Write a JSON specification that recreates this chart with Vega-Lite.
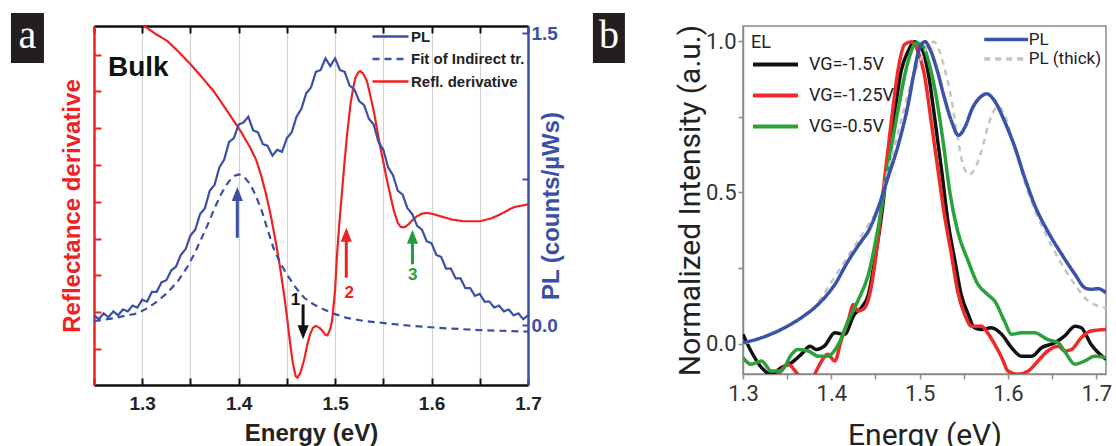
{
"$schema": "https://vega.github.io/schema/vega-lite/v6.json",
"background": "white",
"padding": {"left": 10, "top": 12, "right": 0, "bottom": 0},
"spacing": 28,
"resolve": {
 "scale": {"color": "independent", "stroke": "independent", "strokeDash": "independent", "fill": "independent", "shape": "independent"},
 "legend": {"color": "independent", "stroke": "independent", "strokeDash": "independent", "fill": "independent", "shape": "independent"}
},
"config": {"font": "Liberation Sans", "legend": {"symbolLimit": 0}},
"datasets": {
"lines": [
{"E":1.290,"p":1.616,"s":"Refl. derivative"},{"E":1.300,"p":1.544,"s":"Refl. derivative"},{"E":1.313,"p":1.498,"s":"Refl. derivative"},{"E":1.326,"p":1.459,"s":"Refl. derivative"},{"E":1.338,"p":1.402,"s":"Refl. derivative"},{"E":1.350,"p":1.340,"s":"Refl. derivative"},{"E":1.362,"p":1.272,"s":"Refl. derivative"},{"E":1.374,"p":1.202,"s":"Refl. derivative"},{"E":1.388,"p":1.100,"s":"Refl. derivative"},{"E":1.402,"p":0.996,"s":"Refl. derivative"},{"E":1.412,"p":0.911,"s":"Refl. derivative"},{"E":1.418,"p":0.850,"s":"Refl. derivative"},{"E":1.423,"p":0.774,"s":"Refl. derivative"},{"E":1.428,"p":0.680,"s":"Refl. derivative"},{"E":1.433,"p":0.570,"s":"Refl. derivative"},{"E":1.438,"p":0.440,"s":"Refl. derivative"},{"E":1.443,"p":0.294,"s":"Refl. derivative"},{"E":1.447,"p":0.160,"s":"Refl. derivative"},{"E":1.450,"p":0.047,"s":"Refl. derivative"},{"E":1.453,"p":-0.080,"s":"Refl. derivative"},{"E":1.456,"p":-0.190,"s":"Refl. derivative"},{"E":1.459,"p":-0.262,"s":"Refl. derivative"},{"E":1.461,"p":-0.270,"s":"Refl. derivative"},{"E":1.464,"p":-0.245,"s":"Refl. derivative"},{"E":1.468,"p":-0.176,"s":"Refl. derivative"},{"E":1.471,"p":-0.105,"s":"Refl. derivative"},{"E":1.474,"p":-0.048,"s":"Refl. derivative"},{"E":1.477,"p":-0.015,"s":"Refl. derivative"},{"E":1.480,"p":-0.004,"s":"Refl. derivative"},{"E":1.484,"p":-0.015,"s":"Refl. derivative"},{"E":1.487,"p":-0.031,"s":"Refl. derivative"},{"E":1.490,"p":-0.050,"s":"Refl. derivative"},{"E":1.492,"p":-0.053,"s":"Refl. derivative"},{"E":1.495,"p":-0.020,"s":"Refl. derivative"},{"E":1.497,"p":0.028,"s":"Refl. derivative"},{"E":1.500,"p":0.180,"s":"Refl. derivative"},{"E":1.502,"p":0.364,"s":"Refl. derivative"},{"E":1.505,"p":0.560,"s":"Refl. derivative"},{"E":1.509,"p":0.792,"s":"Refl. derivative"},{"E":1.512,"p":0.960,"s":"Refl. derivative"},{"E":1.516,"p":1.136,"s":"Refl. derivative"},{"E":1.519,"p":1.225,"s":"Refl. derivative"},{"E":1.521,"p":1.270,"s":"Refl. derivative"},{"E":1.524,"p":1.298,"s":"Refl. derivative"},{"E":1.526,"p":1.304,"s":"Refl. derivative"},{"E":1.529,"p":1.292,"s":"Refl. derivative"},{"E":1.533,"p":1.253,"s":"Refl. derivative"},{"E":1.536,"p":1.190,"s":"Refl. derivative"},{"E":1.540,"p":1.100,"s":"Refl. derivative"},{"E":1.547,"p":0.911,"s":"Refl. derivative"},{"E":1.554,"p":0.739,"s":"Refl. derivative"},{"E":1.558,"p":0.650,"s":"Refl. derivative"},{"E":1.561,"p":0.585,"s":"Refl. derivative"},{"E":1.565,"p":0.525,"s":"Refl. derivative"},{"E":1.568,"p":0.504,"s":"Refl. derivative"},{"E":1.572,"p":0.502,"s":"Refl. derivative"},{"E":1.576,"p":0.517,"s":"Refl. derivative"},{"E":1.580,"p":0.538,"s":"Refl. derivative"},{"E":1.585,"p":0.559,"s":"Refl. derivative"},{"E":1.590,"p":0.572,"s":"Refl. derivative"},{"E":1.595,"p":0.576,"s":"Refl. derivative"},{"E":1.602,"p":0.570,"s":"Refl. derivative"},{"E":1.609,"p":0.559,"s":"Refl. derivative"},{"E":1.621,"p":0.542,"s":"Refl. derivative"},{"E":1.633,"p":0.533,"s":"Refl. derivative"},{"E":1.650,"p":0.533,"s":"Refl. derivative"},{"E":1.662,"p":0.548,"s":"Refl. derivative"},{"E":1.671,"p":0.568,"s":"Refl. derivative"},{"E":1.685,"p":0.605,"s":"Refl. derivative"},{"E":1.700,"p":0.620,"s":"Refl. derivative"},
{"E":1.250,"p":0.05,"s":"PL"},{"E":1.255,"p":0.03,"s":"PL"},{"E":1.260,"p":0.06,"s":"PL"},{"E":1.265,"p":0.04,"s":"PL"},{"E":1.270,"p":0.07,"s":"PL"},{"E":1.275,"p":0.05,"s":"PL"},{"E":1.280,"p":0.08,"s":"PL"},{"E":1.285,"p":0.07,"s":"PL"},{"E":1.290,"p":0.10,"s":"PL"},{"E":1.295,"p":0.09,"s":"PL"},{"E":1.300,"p":0.13,"s":"PL"},{"E":1.305,"p":0.12,"s":"PL"},{"E":1.310,"p":0.17,"s":"PL"},{"E":1.315,"p":0.17,"s":"PL"},{"E":1.320,"p":0.22,"s":"PL"},{"E":1.325,"p":0.23,"s":"PL"},{"E":1.330,"p":0.28,"s":"PL"},{"E":1.335,"p":0.30,"s":"PL"},{"E":1.340,"p":0.36,"s":"PL"},{"E":1.345,"p":0.39,"s":"PL"},{"E":1.350,"p":0.46,"s":"PL"},{"E":1.355,"p":0.49,"s":"PL"},{"E":1.360,"p":0.57,"s":"PL"},{"E":1.365,"p":0.60,"s":"PL"},{"E":1.370,"p":0.69,"s":"PL"},{"E":1.375,"p":0.72,"s":"PL"},{"E":1.380,"p":0.81,"s":"PL"},{"E":1.385,"p":0.85,"s":"PL"},{"E":1.390,"p":0.94,"s":"PL"},{"E":1.395,"p":0.96,"s":"PL"},{"E":1.400,"p":1.03,"s":"PL"},{"E":1.405,"p":1.04,"s":"PL"},{"E":1.410,"p":1.07,"s":"PL"},{"E":1.415,"p":1.00,"s":"PL"},{"E":1.420,"p":0.99,"s":"PL"},{"E":1.425,"p":0.93,"s":"PL"},{"E":1.430,"p":0.92,"s":"PL"},{"E":1.435,"p":0.87,"s":"PL"},{"E":1.440,"p":0.90,"s":"PL"},{"E":1.445,"p":0.89,"s":"PL"},{"E":1.450,"p":0.96,"s":"PL"},{"E":1.455,"p":0.99,"s":"PL"},{"E":1.460,"p":1.07,"s":"PL"},{"E":1.465,"p":1.11,"s":"PL"},{"E":1.470,"p":1.19,"s":"PL"},{"E":1.475,"p":1.22,"s":"PL"},{"E":1.480,"p":1.30,"s":"PL"},{"E":1.485,"p":1.31,"s":"PL"},{"E":1.490,"p":1.37,"s":"PL"},{"E":1.495,"p":1.33,"s":"PL"},{"E":1.500,"p":1.37,"s":"PL"},{"E":1.505,"p":1.31,"s":"PL"},{"E":1.510,"p":1.30,"s":"PL"},{"E":1.515,"p":1.23,"s":"PL"},{"E":1.520,"p":1.21,"s":"PL"},{"E":1.525,"p":1.15,"s":"PL"},{"E":1.530,"p":1.13,"s":"PL"},{"E":1.535,"p":1.06,"s":"PL"},{"E":1.540,"p":1.03,"s":"PL"},{"E":1.545,"p":0.94,"s":"PL"},{"E":1.550,"p":0.90,"s":"PL"},{"E":1.555,"p":0.81,"s":"PL"},{"E":1.560,"p":0.77,"s":"PL"},{"E":1.565,"p":0.69,"s":"PL"},{"E":1.570,"p":0.67,"s":"PL"},{"E":1.575,"p":0.60,"s":"PL"},{"E":1.580,"p":0.57,"s":"PL"},{"E":1.585,"p":0.51,"s":"PL"},{"E":1.590,"p":0.49,"s":"PL"},{"E":1.595,"p":0.43,"s":"PL"},{"E":1.600,"p":0.42,"s":"PL"},{"E":1.605,"p":0.36,"s":"PL"},{"E":1.610,"p":0.35,"s":"PL"},{"E":1.615,"p":0.29,"s":"PL"},{"E":1.620,"p":0.29,"s":"PL"},{"E":1.625,"p":0.24,"s":"PL"},{"E":1.630,"p":0.24,"s":"PL"},{"E":1.635,"p":0.19,"s":"PL"},{"E":1.640,"p":0.19,"s":"PL"},{"E":1.645,"p":0.15,"s":"PL"},{"E":1.650,"p":0.16,"s":"PL"},{"E":1.655,"p":0.12,"s":"PL"},{"E":1.660,"p":0.12,"s":"PL"},{"E":1.665,"p":0.09,"s":"PL"},{"E":1.670,"p":0.10,"s":"PL"},{"E":1.675,"p":0.07,"s":"PL"},{"E":1.680,"p":0.08,"s":"PL"},{"E":1.685,"p":0.05,"s":"PL"},{"E":1.690,"p":0.06,"s":"PL"},{"E":1.695,"p":0.03,"s":"PL"},{"E":1.700,"p":0.05,"s":"PL"},
{"E":1.250,"p":0.02,"s":"Fit of Indirect tr."},{"E":1.270,"p":0.035,"s":"Fit of Indirect tr."},{"E":1.295,"p":0.06,"s":"Fit of Indirect tr."},{"E":1.306,"p":0.088,"s":"Fit of Indirect tr."},{"E":1.316,"p":0.123,"s":"Fit of Indirect tr."},{"E":1.327,"p":0.170,"s":"Fit of Indirect tr."},{"E":1.337,"p":0.226,"s":"Fit of Indirect tr."},{"E":1.346,"p":0.292,"s":"Fit of Indirect tr."},{"E":1.354,"p":0.365,"s":"Fit of Indirect tr."},{"E":1.361,"p":0.440,"s":"Fit of Indirect tr."},{"E":1.368,"p":0.517,"s":"Fit of Indirect tr."},{"E":1.375,"p":0.600,"s":"Fit of Indirect tr."},{"E":1.381,"p":0.665,"s":"Fit of Indirect tr."},{"E":1.387,"p":0.718,"s":"Fit of Indirect tr."},{"E":1.392,"p":0.750,"s":"Fit of Indirect tr."},{"E":1.396,"p":0.767,"s":"Fit of Indirect tr."},{"E":1.400,"p":0.774,"s":"Fit of Indirect tr."},{"E":1.405,"p":0.765,"s":"Fit of Indirect tr."},{"E":1.412,"p":0.723,"s":"Fit of Indirect tr."},{"E":1.418,"p":0.662,"s":"Fit of Indirect tr."},{"E":1.424,"p":0.586,"s":"Fit of Indirect tr."},{"E":1.430,"p":0.490,"s":"Fit of Indirect tr."},{"E":1.436,"p":0.397,"s":"Fit of Indirect tr."},{"E":1.443,"p":0.320,"s":"Fit of Indirect tr."},{"E":1.450,"p":0.260,"s":"Fit of Indirect tr."},{"E":1.459,"p":0.193,"s":"Fit of Indirect tr."},{"E":1.468,"p":0.140,"s":"Fit of Indirect tr."},{"E":1.478,"p":0.105,"s":"Fit of Indirect tr."},{"E":1.488,"p":0.081,"s":"Fit of Indirect tr."},{"E":1.500,"p":0.056,"s":"Fit of Indirect tr."},{"E":1.512,"p":0.037,"s":"Fit of Indirect tr."},{"E":1.530,"p":0.021,"s":"Fit of Indirect tr."},{"E":1.547,"p":0.012,"s":"Fit of Indirect tr."},{"E":1.581,"p":-0.005,"s":"Fit of Indirect tr."},{"E":1.616,"p":-0.017,"s":"Fit of Indirect tr."},{"E":1.650,"p":-0.026,"s":"Fit of Indirect tr."},{"E":1.700,"p":-0.034,"s":"Fit of Indirect tr."}
],
"arrows": [
{"k":"b","E":1.3986,"tail":0.448,"neck":0.66,"tip":0.709,"dir":"up","lbl":"","lx":1.4,"ly":0},
{"k":"1","E":1.4668,"tail":0.106,"neck":-0.025,"tip":-0.073,"dir":"down","lbl":"1","lx":1.4589,"ly":0.128},
{"k":"2","E":1.5116,"tail":0.243,"neck":0.45,"tip":0.50,"dir":"up","lbl":"2","lx":1.5147,"ly":0.167},
{"k":"3","E":1.5802,"tail":0.312,"neck":0.44,"tip":0.49,"dir":"up","lbl":"3","lx":1.5804,"ly":0.257}
],
"el": [
{"E":1.300,"I":0.031,"s":"VG=-1.5V"},{"E":1.309,"I":-0.024,"s":"VG=-1.5V"},{"E":1.321,"I":-0.079,"s":"VG=-1.5V"},{"E":1.332,"I":-0.101,"s":"VG=-1.5V"},{"E":1.343,"I":-0.079,"s":"VG=-1.5V"},{"E":1.355,"I":-0.063,"s":"VG=-1.5V"},{"E":1.366,"I":-0.035,"s":"VG=-1.5V"},{"E":1.376,"I":-0.008,"s":"VG=-1.5V"},{"E":1.383,"I":-0.019,"s":"VG=-1.5V"},{"E":1.392,"I":-0.008,"s":"VG=-1.5V"},{"E":1.404,"I":0.036,"s":"VG=-1.5V"},{"E":1.415,"I":0.031,"s":"VG=-1.5V"},{"E":1.426,"I":0.097,"s":"VG=-1.5V"},{"E":1.434,"I":0.119,"s":"VG=-1.5V"},{"E":1.442,"I":0.163,"s":"VG=-1.5V"},{"E":1.449,"I":0.273,"s":"VG=-1.5V"},{"E":1.457,"I":0.427,"s":"VG=-1.5V"},{"E":1.464,"I":0.604,"s":"VG=-1.5V"},{"E":1.472,"I":0.769,"s":"VG=-1.5V"},{"E":1.479,"I":0.901,"s":"VG=-1.5V"},{"E":1.487,"I":0.967,"s":"VG=-1.5V"},{"E":1.494,"I":0.998,"s":"VG=-1.5V"},{"E":1.502,"I":0.978,"s":"VG=-1.5V"},{"E":1.510,"I":0.890,"s":"VG=-1.5V"},{"E":1.517,"I":0.747,"s":"VG=-1.5V"},{"E":1.525,"I":0.570,"s":"VG=-1.5V"},{"E":1.532,"I":0.405,"s":"VG=-1.5V"},{"E":1.540,"I":0.273,"s":"VG=-1.5V"},{"E":1.547,"I":0.163,"s":"VG=-1.5V"},{"E":1.555,"I":0.097,"s":"VG=-1.5V"},{"E":1.562,"I":0.053,"s":"VG=-1.5V"},{"E":1.570,"I":0.047,"s":"VG=-1.5V"},{"E":1.581,"I":0.053,"s":"VG=-1.5V"},{"E":1.593,"I":0.031,"s":"VG=-1.5V"},{"E":1.604,"I":-0.013,"s":"VG=-1.5V"},{"E":1.615,"I":-0.041,"s":"VG=-1.5V"},{"E":1.627,"I":-0.041,"s":"VG=-1.5V"},{"E":1.638,"I":-0.013,"s":"VG=-1.5V"},{"E":1.653,"I":0.003,"s":"VG=-1.5V"},{"E":1.664,"I":0.025,"s":"VG=-1.5V"},{"E":1.676,"I":0.058,"s":"VG=-1.5V"},{"E":1.683,"I":0.053,"s":"VG=-1.5V"},{"E":1.694,"I":-0.002,"s":"VG=-1.5V"},{"E":1.711,"I":-0.052,"s":"VG=-1.5V"},
{"E":1.300,"I":-0.107,"s":"VG=-1.25V"},{"E":1.332,"I":-0.123,"s":"VG=-1.25V"},{"E":1.351,"I":-0.068,"s":"VG=-1.25V"},{"E":1.364,"I":-0.107,"s":"VG=-1.25V"},{"E":1.377,"I":-0.123,"s":"VG=-1.25V"},{"E":1.383,"I":-0.090,"s":"VG=-1.25V"},{"E":1.389,"I":-0.057,"s":"VG=-1.25V"},{"E":1.396,"I":-0.035,"s":"VG=-1.25V"},{"E":1.404,"I":-0.057,"s":"VG=-1.25V"},{"E":1.411,"I":0.009,"s":"VG=-1.25V"},{"E":1.419,"I":0.075,"s":"VG=-1.25V"},{"E":1.425,"I":0.130,"s":"VG=-1.25V"},{"E":1.430,"I":0.108,"s":"VG=-1.25V"},{"E":1.438,"I":0.119,"s":"VG=-1.25V"},{"E":1.445,"I":0.185,"s":"VG=-1.25V"},{"E":1.453,"I":0.350,"s":"VG=-1.25V"},{"E":1.460,"I":0.537,"s":"VG=-1.25V"},{"E":1.468,"I":0.736,"s":"VG=-1.25V"},{"E":1.476,"I":0.912,"s":"VG=-1.25V"},{"E":1.483,"I":0.989,"s":"VG=-1.25V"},{"E":1.491,"I":0.998,"s":"VG=-1.25V"},{"E":1.498,"I":0.967,"s":"VG=-1.25V"},{"E":1.506,"I":0.879,"s":"VG=-1.25V"},{"E":1.513,"I":0.736,"s":"VG=-1.25V"},{"E":1.521,"I":0.570,"s":"VG=-1.25V"},{"E":1.528,"I":0.427,"s":"VG=-1.25V"},{"E":1.536,"I":0.295,"s":"VG=-1.25V"},{"E":1.543,"I":0.174,"s":"VG=-1.25V"},{"E":1.551,"I":0.097,"s":"VG=-1.25V"},{"E":1.559,"I":0.058,"s":"VG=-1.25V"},{"E":1.570,"I":0.058,"s":"VG=-1.25V"},{"E":1.577,"I":0.036,"s":"VG=-1.25V"},{"E":1.585,"I":-0.002,"s":"VG=-1.25V"},{"E":1.593,"I":-0.046,"s":"VG=-1.25V"},{"E":1.600,"I":-0.090,"s":"VG=-1.25V"},{"E":1.611,"I":-0.101,"s":"VG=-1.25V"},{"E":1.623,"I":-0.090,"s":"VG=-1.25V"},{"E":1.634,"I":-0.057,"s":"VG=-1.25V"},{"E":1.645,"I":-0.024,"s":"VG=-1.25V"},{"E":1.657,"I":-0.008,"s":"VG=-1.25V"},{"E":1.664,"I":-0.024,"s":"VG=-1.25V"},{"E":1.672,"I":-0.019,"s":"VG=-1.25V"},{"E":1.683,"I":0.020,"s":"VG=-1.25V"},{"E":1.694,"I":0.042,"s":"VG=-1.25V"},{"E":1.711,"I":0.047,"s":"VG=-1.25V"},
{"E":1.300,"I":-0.046,"s":"VG=-0.5V"},{"E":1.309,"I":-0.068,"s":"VG=-0.5V"},{"E":1.321,"I":-0.057,"s":"VG=-0.5V"},{"E":1.332,"I":-0.090,"s":"VG=-0.5V"},{"E":1.343,"I":-0.090,"s":"VG=-0.5V"},{"E":1.355,"I":-0.035,"s":"VG=-0.5V"},{"E":1.362,"I":-0.019,"s":"VG=-0.5V"},{"E":1.374,"I":-0.024,"s":"VG=-0.5V"},{"E":1.385,"I":-0.041,"s":"VG=-0.5V"},{"E":1.396,"I":-0.041,"s":"VG=-0.5V"},{"E":1.408,"I":-0.002,"s":"VG=-0.5V"},{"E":1.419,"I":0.075,"s":"VG=-0.5V"},{"E":1.430,"I":0.141,"s":"VG=-0.5V"},{"E":1.442,"I":0.229,"s":"VG=-0.5V"},{"E":1.453,"I":0.383,"s":"VG=-0.5V"},{"E":1.464,"I":0.581,"s":"VG=-0.5V"},{"E":1.476,"I":0.780,"s":"VG=-0.5V"},{"E":1.487,"I":0.934,"s":"VG=-0.5V"},{"E":1.496,"I":0.994,"s":"VG=-0.5V"},{"E":1.504,"I":0.983,"s":"VG=-0.5V"},{"E":1.511,"I":0.923,"s":"VG=-0.5V"},{"E":1.519,"I":0.813,"s":"VG=-0.5V"},{"E":1.527,"I":0.659,"s":"VG=-0.5V"},{"E":1.534,"I":0.504,"s":"VG=-0.5V"},{"E":1.543,"I":0.372,"s":"VG=-0.5V"},{"E":1.555,"I":0.273,"s":"VG=-0.5V"},{"E":1.566,"I":0.196,"s":"VG=-0.5V"},{"E":1.577,"I":0.163,"s":"VG=-0.5V"},{"E":1.585,"I":0.141,"s":"VG=-0.5V"},{"E":1.596,"I":0.075,"s":"VG=-0.5V"},{"E":1.604,"I":0.031,"s":"VG=-0.5V"},{"E":1.615,"I":0.036,"s":"VG=-0.5V"},{"E":1.630,"I":0.036,"s":"VG=-0.5V"},{"E":1.645,"I":0.014,"s":"VG=-0.5V"},{"E":1.657,"I":0.003,"s":"VG=-0.5V"},{"E":1.664,"I":-0.024,"s":"VG=-0.5V"},{"E":1.676,"I":-0.068,"s":"VG=-0.5V"},{"E":1.687,"I":-0.057,"s":"VG=-0.5V"},{"E":1.698,"I":-0.041,"s":"VG=-0.5V"},{"E":1.711,"I":-0.046,"s":"VG=-0.5V"}
],
"pl": [
{"E":1.300,"I":0.003,"s":"PL"},{"E":1.321,"I":0.020,"s":"PL"},{"E":1.343,"I":0.047,"s":"PL"},{"E":1.366,"I":0.086,"s":"PL"},{"E":1.385,"I":0.130,"s":"PL"},{"E":1.404,"I":0.196,"s":"PL"},{"E":1.419,"I":0.273,"s":"PL"},{"E":1.434,"I":0.339,"s":"PL"},{"E":1.442,"I":0.372,"s":"PL"},{"E":1.453,"I":0.449,"s":"PL"},{"E":1.464,"I":0.548,"s":"PL"},{"E":1.476,"I":0.659,"s":"PL"},{"E":1.487,"I":0.791,"s":"PL"},{"E":1.494,"I":0.901,"s":"PL"},{"E":1.500,"I":0.978,"s":"PL"},{"E":1.506,"I":0.998,"s":"PL"},{"E":1.511,"I":0.978,"s":"PL"},{"E":1.519,"I":0.912,"s":"PL"},{"E":1.528,"I":0.813,"s":"PL"},{"E":1.536,"I":0.736,"s":"PL"},{"E":1.544,"I":0.689,"s":"PL"},{"E":1.551,"I":0.714,"s":"PL"},{"E":1.560,"I":0.780,"s":"PL"},{"E":1.570,"I":0.818,"s":"PL"},{"E":1.576,"I":0.826,"s":"PL"},{"E":1.585,"I":0.802,"s":"PL"},{"E":1.596,"I":0.736,"s":"PL"},{"E":1.608,"I":0.648,"s":"PL"},{"E":1.619,"I":0.548,"s":"PL"},{"E":1.630,"I":0.460,"s":"PL"},{"E":1.645,"I":0.372,"s":"PL"},{"E":1.661,"I":0.295,"s":"PL"},{"E":1.676,"I":0.229,"s":"PL"},{"E":1.687,"I":0.185,"s":"PL"},{"E":1.694,"I":0.180,"s":"PL"},{"E":1.702,"I":0.182,"s":"PL"},{"E":1.711,"I":0.168,"s":"PL"},
{"E":1.300,"I":0.000,"s":"PL (thick)"},{"E":1.321,"I":0.018,"s":"PL (thick)"},{"E":1.343,"I":0.045,"s":"PL (thick)"},{"E":1.366,"I":0.088,"s":"PL (thick)"},{"E":1.385,"I":0.135,"s":"PL (thick)"},{"E":1.396,"I":0.185,"s":"PL (thick)"},{"E":1.419,"I":0.290,"s":"PL (thick)"},{"E":1.442,"I":0.394,"s":"PL (thick)"},{"E":1.453,"I":0.449,"s":"PL (thick)"},{"E":1.464,"I":0.570,"s":"PL (thick)"},{"E":1.479,"I":0.736,"s":"PL (thick)"},{"E":1.491,"I":0.868,"s":"PL (thick)"},{"E":1.502,"I":0.945,"s":"PL (thick)"},{"E":1.516,"I":0.998,"s":"PL (thick)"},{"E":1.527,"I":0.923,"s":"PL (thick)"},{"E":1.537,"I":0.791,"s":"PL (thick)"},{"E":1.543,"I":0.681,"s":"PL (thick)"},{"E":1.549,"I":0.593,"s":"PL (thick)"},{"E":1.556,"I":0.559,"s":"PL (thick)"},{"E":1.563,"I":0.581,"s":"PL (thick)"},{"E":1.570,"I":0.637,"s":"PL (thick)"},{"E":1.578,"I":0.725,"s":"PL (thick)"},{"E":1.589,"I":0.785,"s":"PL (thick)"},{"E":1.597,"I":0.750,"s":"PL (thick)"},{"E":1.608,"I":0.640,"s":"PL (thick)"},{"E":1.619,"I":0.535,"s":"PL (thick)"},{"E":1.630,"I":0.445,"s":"PL (thick)"},{"E":1.645,"I":0.350,"s":"PL (thick)"},{"E":1.661,"I":0.262,"s":"PL (thick)"},{"E":1.676,"I":0.195,"s":"PL (thick)"},{"E":1.691,"I":0.141,"s":"PL (thick)"},{"E":1.711,"I":0.119,"s":"PL (thick)"}
]
},
"hconcat": [
{
"width": 434, "height": 359,
"view": {"stroke": null},
"resolve": {"axis": {"x": "independent", "y": "independent"}},
"layer": [
{
"data": {"name": "lines"},
"mark": {"type": "line", "strokeWidth": 2.2, "clip": true},
"encoding": {
"x": {"field": "E", "type": "quantitative", "scale": {"domain": [1.25, 1.7], "nice": false, "zero": false},
 "axis": {"orient": "bottom", "values": [1.25,1.3,1.35,1.4,1.45,1.5,1.55,1.6,1.65,1.7], "labelExpr": "abs(datum.value*10-round(datum.value*10))<0.01 ? format(datum.value,'.1f') : ''", "labelFlush": false, "labelOverlap": false, "labelFont": "Liberation Sans", "labelFontWeight": "bold", "labelFontSize": 19, "labelColor": "#222", "labelPadding": 16, "tickSize": -7, "tickWidth": 2, "tickColor": "#111", "domainColor": "#111", "domainWidth": 2.5, "grid": false, "title": "Energy (eV)", "titleFont": "Liberation Sans", "titleFontWeight": "bold", "titleFontSize": 24, "titleColor": "#222", "titlePadding": 8}},
"y": {"field": "p", "type": "quantitative", "scale": {"domain": [-0.308, 1.536], "nice": false, "zero": false},
 "axis": {"orient": "left", "values": [-0.123, 0.066, 0.255, 0.444, 0.633, 0.822, 1.011, 1.2, 1.389], "labels": false, "tickSize": -7, "tickWidth": 2, "tickColor": "#ee2222", "domainColor": "#ee2222", "domainWidth": 2.5, "grid": false, "title": "Reflectance derivative", "titleColor": "#ee2222", "titleFont": "Liberation Sans", "titleFontWeight": "bold", "titleFontSize": 24, "titlePadding": 9}},
"color": {"field": "s", "type": "nominal", "scale": {"domain": ["PL", "Fit of Indirect tr.", "Refl. derivative"], "range": ["#3a4fa6", "#3a4fa6", "#ee2222"]},
 "legend": {"orient": "top-right", "offset": 3, "title": null, "symbolType": "M-3,0H3", "symbolSize": 144, "symbolOffset": 12, "symbolStrokeWidth": 2.5, "labelFont": "Liberation Sans", "labelFontWeight": "bold", "labelFontSize": 15, "labelColor": "#222", "labelOffset": 13, "rowPadding": 6.5, "padding": 0}},
"strokeDash": {"field": "s", "type": "nominal", "scale": {"domain": ["PL", "Fit of Indirect tr.", "Refl. derivative"], "range": [[1,0],[7,5],[1,0]]},
 "legend": {"orient": "top-right", "offset": 3, "title": null, "symbolType": "M-3,0H3", "symbolSize": 144, "symbolOffset": 12, "symbolStrokeWidth": 2.5, "labelFont": "Liberation Sans", "labelFontWeight": "bold", "labelFontSize": 15, "labelColor": "#222", "labelOffset": 13, "rowPadding": 6.5, "padding": 0}}
}
},
{
"data": {"name": "arrows"},
"mark": {"type": "rule", "strokeWidth": 3},
"encoding": {
"x": {"field": "E", "type": "quantitative", "scale": {"domain": [1.25, 1.7], "nice": false, "zero": false},
 "axis": {"orient": "top", "values": [1.25,1.3,1.35,1.4,1.45,1.5,1.55,1.6,1.65,1.7], "labels": false, "tickSize": -7, "tickWidth": 2, "tickColor": "#111", "domainColor": "#111", "domainWidth": 2.5, "grid": true, "gridColor": "#d2d2d2", "gridWidth": 1.2, "title": null}},
"y": {"field": "tail", "type": "quantitative", "scale": {"domain": [-0.308, 1.536], "nice": false, "zero": false},
 "axis": {"orient": "right", "values": [0, 0.75, 1.5], "labelExpr": "datum.value == 0.75 ? '' : format(datum.value, '.1f')", "labelFlush": false, "labelOverlap": false, "labelFont": "Liberation Sans", "labelFontWeight": "bold", "labelFontSize": 19, "labelColor": "#3a4fa6", "labelPadding": 9, "tickSize": -6, "tickWidth": 2, "tickColor": "#3a4fa6", "domainColor": "#3a4fa6", "domainWidth": 2.5, "grid": false, "title": "PL (counts/µWs)", "titleColor": "#3a4fa6", "titleFont": "Liberation Sans", "titleFontWeight": "bold", "titleFontSize": 24, "titleAngle": 270, "titlePadding": 6}},
"y2": {"field": "neck"},
"stroke": {"field": "k", "type": "nominal", "scale": {"domain": ["b","1","2","3"], "range": ["#3a4fa6", "#111111", "#ee2222", "#1f9e3f"]}, "legend": null}
}
},
{
"data": {"name": "arrows"},
"mark": {"type": "point", "filled": true, "opacity": 1, "size": 196, "strokeWidth": 0},
"encoding": {
"x": {"field": "E", "type": "quantitative", "scale": {"domain": [1.25, 1.7], "nice": false, "zero": false}, "axis": null},
"y": {"field": "tip", "type": "quantitative", "scale": {"domain": [-0.308, 1.536], "nice": false, "zero": false}, "axis": null},
"shape": {"field": "dir", "type": "nominal", "scale": {"domain": ["up", "down"], "range": ["M0,0L-0.8,2L0.8,2Z", "M0,0L-0.8,-2L0.8,-2Z"]}, "legend": null},
"fill": {"field": "k", "type": "nominal", "scale": {"domain": ["b","1","2","3"], "range": ["#3a4fa6", "#111111", "#ee2222", "#1f9e3f"]}, "legend": null}
}
},
{
"data": {"name": "arrows"},
"transform": [{"filter": "datum.lbl != ''"}],
"mark": {"type": "text", "font": "Liberation Sans", "fontWeight": "bold", "fontSize": 17},
"encoding": {
"x": {"field": "lx", "type": "quantitative", "scale": {"domain": [1.25, 1.7], "nice": false, "zero": false}, "axis": null},
"y": {"field": "ly", "type": "quantitative", "scale": {"domain": [-0.308, 1.536], "nice": false, "zero": false}, "axis": null},
"text": {"field": "lbl"},
"fill": {"field": "k", "type": "nominal", "scale": {"domain": ["b","1","2","3"], "range": ["#3a4fa6", "#111111", "#ee2222", "#1f9e3f"]}, "legend": null}
}
},
{
"data": {"values": [{"t": "Bulk"}]},
"mark": {"type": "text", "font": "Liberation Sans", "fontWeight": "bold", "fontSize": 28, "align": "left", "baseline": "alphabetic", "color": "#111"},
"encoding": {
"x": {"datum": 1.2645, "type": "quantitative", "scale": {"domain": [1.25, 1.7], "nice": false, "zero": false}, "axis": null},
"y": {"datum": 1.279, "type": "quantitative", "scale": {"domain": [-0.308, 1.536], "nice": false, "zero": false}, "axis": null},
"text": {"field": "t"}
}
},
{
"data": {"values": [{"t": "a"}]},
"mark": {"type": "point", "shape": "M-0.66,-1H0.66V1H-0.66Z", "size": 2500, "filled": true, "opacity": 1, "color": "#231f20", "strokeWidth": 0},
"encoding": {
"x": {"datum": 1.181, "type": "quantitative", "scale": {"domain": [1.25, 1.7], "nice": false, "zero": false}, "axis": null},
"y": {"datum": 1.4744, "type": "quantitative", "scale": {"domain": [-0.308, 1.536], "nice": false, "zero": false}, "axis": null}
}
},
{
"data": {"values": [{"t": "a"}]},
"mark": {"type": "text", "font": "Liberation Serif", "fontSize": 40, "color": "white", "align": "center", "baseline": "alphabetic"},
"encoding": {
"x": {"datum": 1.181, "type": "quantitative", "scale": {"domain": [1.25, 1.7], "nice": false, "zero": false}, "axis": null},
"y": {"datum": 1.423, "type": "quantitative", "scale": {"domain": [-0.308, 1.536], "nice": false, "zero": false}, "axis": null},
"text": {"field": "t"}
}
}
]
},
{
"width": 363, "height": 348,
"view": {"stroke": "#8a8a8a", "strokeWidth": 1.5},
"layer": [
{
"data": {"name": "el"},
"mark": {"type": "line", "strokeWidth": 3.5, "interpolate": "monotone", "clip": true},
"encoding": {
"x": {"field": "E", "type": "quantitative", "scale": {"domain": [1.3, 1.711], "nice": false, "zero": false},
 "axis": {"orient": "bottom", "values": [1.3,1.35,1.4,1.45,1.5,1.55,1.6,1.65,1.7], "labelExpr": "abs(datum.value*10-round(datum.value*10))<0.01 ? format(datum.value,'.1f') : ''", "labelFlush": false, "labelOverlap": false, "labelFont": "Roboto", "labelFontSize": 22, "labelColor": "#333", "labelPadding": 4, "tickSize": 5, "tickWidth": 1.5, "tickColor": "#8a8a8a", "domainColor": "#8a8a8a", "domainWidth": 1.5, "grid": false, "title": "Energy (eV)", "titleFont": "Roboto", "titleFontWeight": "normal", "titleFontSize": 30, "titleColor": "#222", "titlePadding": 16}},
"y": {"field": "I", "type": "quantitative", "scale": {"domain": [-0.1, 1.05], "nice": false, "zero": false},
 "axis": {"orient": "left", "values": [0, 0.25, 0.5, 0.75, 1], "labelExpr": "abs(datum.value*2-round(datum.value*2))<0.01 ? format(datum.value,'.1f') : ''", "labelFlush": false, "labelOverlap": false, "labelFont": "Roboto", "labelFontSize": 22, "labelColor": "#333", "labelPadding": 2, "tickSize": 5, "tickWidth": 1.5, "tickColor": "#8a8a8a", "domainColor": "#8a8a8a", "domainWidth": 1.5, "grid": false, "title": "Normalized Intensity (a.u.)", "titleFont": "Roboto", "titleFontWeight": "normal", "titleFontSize": 30, "titleColor": "#222", "titlePadding": 0}},
"color": {"field": "s", "type": "nominal", "scale": {"domain": ["VG=-1.5V", "VG=-1.25V", "VG=-0.5V"], "range": ["#111111", "#ee2a2a", "#2aa23a"]},
 "legend": {"orient": "top-left", "offset": 8, "title": "EL", "titleFont": "Roboto", "titleFontSize": 18, "titleFontWeight": "normal", "titleColor": "#222", "titlePadding": 3, "symbolType": "M-3,0H3", "symbolSize": 225, "symbolOffset": 15, "symbolStrokeWidth": 4, "labelFont": "Roboto", "labelFontSize": 18, "labelColor": "#222", "labelOffset": 24, "rowPadding": 12, "padding": 0}}
}
},
{
"data": {"name": "pl"},
"transform": [{"filter": "datum.s == 'PL (thick)'"}],
"mark": {"type": "line", "strokeWidth": 2.5, "interpolate": "monotone", "clip": true},
"encoding": {
"x": {"field": "E", "type": "quantitative", "scale": {"domain": [1.3, 1.711], "nice": false, "zero": false}},
"y": {"field": "I", "type": "quantitative", "scale": {"domain": [-0.1, 1.05], "nice": false, "zero": false}},
"stroke": {"field": "s", "type": "nominal", "scale": {"domain": ["PL", "PL (thick)"], "range": ["#3a52a8", "#c4c4c4"]},
 "legend": {"orient": "top-right", "offset": 4, "title": null, "symbolType": "M-3,0H3", "symbolSize": 215, "symbolOffset": 14.7, "symbolStrokeWidth": 3.5, "labelFont": "Roboto", "labelFontSize": 17, "labelColor": "#222", "labelOffset": 13, "rowPadding": 1.6, "padding": 0}},
"strokeDash": {"field": "s", "type": "nominal", "scale": {"domain": ["PL", "PL (thick)"], "range": [[1,0],[6,5]]},
 "legend": {"orient": "top-right", "offset": 4, "title": null, "symbolType": "M-3,0H3", "symbolSize": 215, "symbolOffset": 14.7, "symbolStrokeWidth": 3.5, "labelFont": "Roboto", "labelFontSize": 17, "labelColor": "#222", "labelOffset": 13, "rowPadding": 1.6, "padding": 0}}
}
},
{
"data": {"name": "pl"},
"transform": [{"filter": "datum.s == 'PL'"}],
"mark": {"type": "line", "strokeWidth": 3.5, "interpolate": "monotone", "clip": true},
"encoding": {
"x": {"field": "E", "type": "quantitative", "scale": {"domain": [1.3, 1.711], "nice": false, "zero": false}},
"y": {"field": "I", "type": "quantitative", "scale": {"domain": [-0.1, 1.05], "nice": false, "zero": false}},
"stroke": {"field": "s", "type": "nominal", "scale": {"domain": ["PL", "PL (thick)"], "range": ["#3a52a8", "#c4c4c4"]},
 "legend": {"orient": "top-right", "offset": 4, "title": null, "symbolType": "M-3,0H3", "symbolSize": 215, "symbolOffset": 14.7, "symbolStrokeWidth": 3.5, "labelFont": "Roboto", "labelFontSize": 17, "labelColor": "#222", "labelOffset": 13, "rowPadding": 1.6, "padding": 0}},
"strokeDash": {"field": "s", "type": "nominal", "scale": {"domain": ["PL", "PL (thick)"], "range": [[1,0],[6,5]]},
 "legend": {"orient": "top-right", "offset": 4, "title": null, "symbolType": "M-3,0H3", "symbolSize": 215, "symbolOffset": 14.7, "symbolStrokeWidth": 3.5, "labelFont": "Roboto", "labelFontSize": 17, "labelColor": "#222", "labelOffset": 13, "rowPadding": 1.6, "padding": 0}}
}
},
{
"data": {"values": [{"t": "b"}]},
"mark": {"type": "point", "shape": "M-0.64,-1H0.64V1H-0.64Z", "size": 2500, "filled": true, "opacity": 1, "color": "#231f20", "strokeWidth": 0},
"encoding": {
"x": {"datum": 1.1482, "type": "quantitative", "scale": {"domain": [1.3, 1.711], "nice": false, "zero": false}},
"y": {"datum": 1.0103, "type": "quantitative", "scale": {"domain": [-0.1, 1.05], "nice": false, "zero": false}}
}
},
{
"data": {"values": [{"t": "b"}]},
"mark": {"type": "text", "font": "Liberation Serif", "fontSize": 40, "color": "white", "align": "center", "baseline": "alphabetic"},
"encoding": {
"x": {"datum": 1.1482, "type": "quantitative", "scale": {"domain": [1.3, 1.711], "nice": false, "zero": false}},
"y": {"datum": 0.9773, "type": "quantitative", "scale": {"domain": [-0.1, 1.05], "nice": false, "zero": false}},
"text": {"field": "t"}
}
}
]
}
]
}
